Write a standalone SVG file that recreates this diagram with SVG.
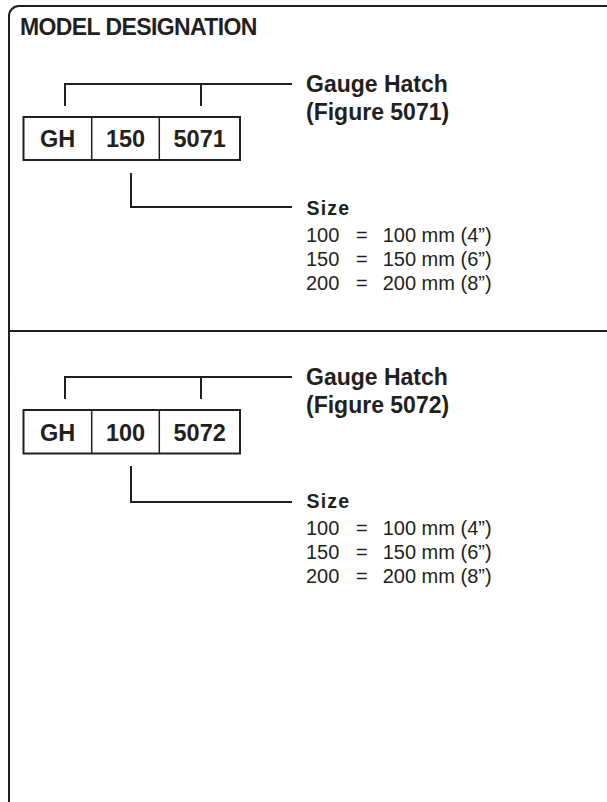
<svg xmlns="http://www.w3.org/2000/svg" width="607" height="802" viewBox="0 0 607 802">
<style>
.frame{fill:none;stroke:#231f20;stroke-width:2}
.ln{fill:none;stroke:#231f20;stroke-width:2}
.box{fill:#fff;stroke:#231f20;stroke-width:2}
.sep{stroke:#231f20;stroke-width:1.5}
.title{font-family:"Liberation Sans",Arial,sans-serif;font-weight:bold;font-size:23px;letter-spacing:-0.6px;fill:#231f20}
.code{font-family:"Liberation Sans",Arial,sans-serif;font-weight:bold;font-size:23.5px;fill:#231f20;text-anchor:middle}
.lbl{font-family:"Liberation Sans",Arial,sans-serif;font-weight:bold;font-size:23px;fill:#231f20}
.size{font-family:"Liberation Sans",Arial,sans-serif;font-weight:bold;font-size:19.5px;letter-spacing:1.2px;fill:#231f20}
.body{font-family:"Liberation Sans",Arial,sans-serif;font-size:20px;fill:#231f20}
</style>
<rect class="frame" x="9" y="6" width="640" height="830" rx="10"/>
<line class="ln" x1="9" y1="331" x2="607" y2="331"/>
<text class="title" x="20" y="35">MODEL DESIGNATION</text>

<g id="connectors">
<path class="ln" d="M65,106 V84 H292 M201,84 V106"/>
<path class="ln" d="M131,173 V207 H292"/>
<path class="ln" d="M65,399 V377 H292 M201,377 V399"/>
<path class="ln" d="M131,466 V502 H292"/>
</g>

<g id="code1">
<rect class="box" x="23.5" y="117" width="216.5" height="43"/>
<line class="sep" x1="91.7" y1="117" x2="91.7" y2="160"/>
<line class="sep" x1="159.3" y1="117" x2="159.3" y2="160"/>
<text class="code" x="57.5" y="147.3">GH</text>
<text class="code" x="125.5" y="147.3">150</text>
<text class="code" x="199.7" y="147.3">5071</text>
</g>

<g id="label1">
<text class="lbl" x="306" y="91.7">Gauge Hatch</text>
<text class="lbl" x="306" y="120">(Figure 5071)</text>
</g>

<g id="size1">
<text class="size" x="306.5" y="215">Size</text>
<text class="body" y="241.7"><tspan x="306">100</tspan><tspan x="356">=</tspan><tspan x="382.7">100 mm (4”)</tspan></text>
<text class="body" y="265.5"><tspan x="306">150</tspan><tspan x="356">=</tspan><tspan x="382.7">150 mm (6”)</tspan></text>
<text class="body" y="290"><tspan x="306">200</tspan><tspan x="356">=</tspan><tspan x="382.7">200 mm (8”)</tspan></text>
</g>

<g id="code2">
<rect class="box" x="23.5" y="410" width="216.5" height="43.5"/>
<line class="sep" x1="91.7" y1="410" x2="91.7" y2="453.5"/>
<line class="sep" x1="159.3" y1="410" x2="159.3" y2="453.5"/>
<text class="code" x="57.5" y="440.5">GH</text>
<text class="code" x="125.5" y="440.5">100</text>
<text class="code" x="199.7" y="440.5">5072</text>
</g>

<g id="label2">
<text class="lbl" x="306" y="385">Gauge Hatch</text>
<text class="lbl" x="306" y="413">(Figure 5072)</text>
</g>

<g id="size2">
<text class="size" x="306.5" y="508.3">Size</text>
<text class="body" y="535"><tspan x="306">100</tspan><tspan x="356">=</tspan><tspan x="382.7">100 mm (4”)</tspan></text>
<text class="body" y="558.5"><tspan x="306">150</tspan><tspan x="356">=</tspan><tspan x="382.7">150 mm (6”)</tspan></text>
<text class="body" y="583"><tspan x="306">200</tspan><tspan x="356">=</tspan><tspan x="382.7">200 mm (8”)</tspan></text>
</g>
</svg>
